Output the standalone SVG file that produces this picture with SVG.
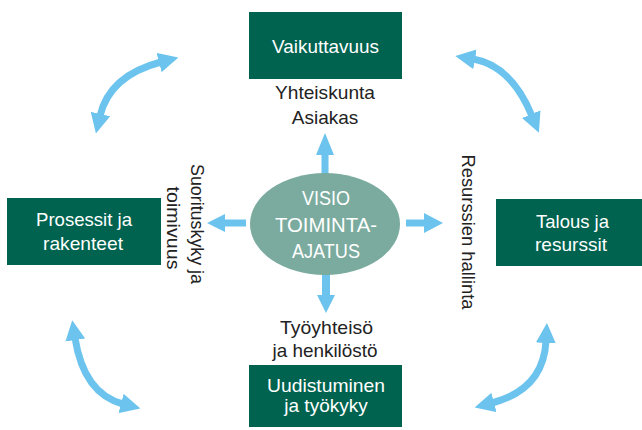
<svg xmlns="http://www.w3.org/2000/svg" width="642" height="430" viewBox="0 0 642 430">
<style>
.box{fill:#00634f}
.bt{font-family:"Liberation Sans",Arial,sans-serif;font-size:19px;fill:#ffffff;text-anchor:middle}
.lt{font-family:"Liberation Sans",Arial,sans-serif;font-size:19px;fill:#222222;text-anchor:middle}
.et{font-family:"Liberation Sans",Arial,sans-serif;font-size:20px;fill:#ffffff;text-anchor:middle}
.curve{fill:none;stroke:#6cc4ee;stroke-width:7}
.arr{fill:#6cc4ee}
</style>
<defs>
<marker id="ah" viewBox="0 0 20 20" refX="2" refY="10" markerWidth="20" markerHeight="20" markerUnits="userSpaceOnUse" orient="auto-start-reverse">
<path d="M0,0 L20,10 L0,20 z" fill="#6cc4ee"/>
</marker>
</defs>
<rect width="642" height="430" fill="#ffffff"/>
<g id="connectors">
<path class="curve" d="M100,116 Q109.5,75.5 161,62" marker-start="url(#ah)" marker-end="url(#ah)"/>
<path class="curve" d="M473,59 Q511,65.4 532,116" marker-start="url(#ah)" marker-end="url(#ah)"/>
<path class="curve" d="M75,338 Q83.8,393.7 123,404" marker-start="url(#ah)" marker-end="url(#ah)"/>
<path class="curve" d="M546,341 Q543.5,389.4 492,403" marker-start="url(#ah)" marker-end="url(#ah)"/>
<polygon class="arr" points="321.5,176 321.5,155 316,155 325,133 334,155 328.5,155 328.5,176"/>
<polygon class="arr" points="246,219.5 225,219.5 225,214 207,223 225,232 225,226.5 246,226.5"/>
<polygon class="arr" points="406,219.5 424,219.5 424,213 443,223 424,233 424,226.5 406,226.5"/>
<polygon class="arr" points="322,272 322,295 317,295 326,313 335,295 330,295 330,272"/>
</g>
<g id="center">
<ellipse cx="325" cy="224" rx="75" ry="51" fill="#7aab9e"/>
<text class="et" x="326" y="205" textLength="48" lengthAdjust="spacingAndGlyphs">VISIO</text>
<text class="et" x="326" y="232" textLength="102" lengthAdjust="spacingAndGlyphs">TOIMINTA-</text>
<text class="et" x="326" y="258" textLength="68" lengthAdjust="spacingAndGlyphs">AJATUS</text>
</g>
<g id="vaikuttavuus">
<rect class="box" x="249" y="12" width="153" height="67"/>
<text class="bt" x="325.5" y="53" textLength="107" lengthAdjust="spacingAndGlyphs">Vaikuttavuus</text>
</g>
<g id="label-top">
<text class="lt" x="325" y="99" textLength="100" lengthAdjust="spacingAndGlyphs">Yhteiskunta</text>
<text class="lt" x="325" y="124">Asiakas</text>
</g>
<g id="prosessit">
<rect class="box" x="7" y="198" width="154" height="67"/>
<text class="bt" x="84" y="226" textLength="96" lengthAdjust="spacingAndGlyphs">Prosessit ja</text>
<text class="bt" x="83" y="250" textLength="80" lengthAdjust="spacingAndGlyphs">rakenteet</text>
</g>
<g id="label-left">
<text class="lt" transform="translate(191,224) rotate(90)" x="0" y="0" textLength="120" lengthAdjust="spacingAndGlyphs">Suorituskyky ja</text>
<text class="lt" transform="translate(167,228) rotate(90)" x="0" y="0" textLength="83" lengthAdjust="spacingAndGlyphs">toimivuus</text>
</g>
<g id="talous">
<rect class="box" x="496" y="199" width="146" height="67"/>
<text class="bt" x="572.5" y="228" textLength="73" lengthAdjust="spacingAndGlyphs">Talous ja</text>
<text class="bt" x="571" y="251" textLength="72" lengthAdjust="spacingAndGlyphs">resurssit</text>
</g>
<g id="label-right">
<text class="lt" transform="translate(462,232) rotate(90)" x="0" y="0" textLength="155" lengthAdjust="spacingAndGlyphs">Resurssien hallinta</text>
</g>
<g id="uudistuminen">
<rect class="box" x="249" y="365" width="153" height="62"/>
<text class="bt" x="326" y="392" textLength="118" lengthAdjust="spacingAndGlyphs">Uudistuminen</text>
<text class="bt" x="326" y="412">ja työkyky</text>
</g>
<g id="label-bottom">
<text class="lt" x="326.5" y="334" textLength="93" lengthAdjust="spacingAndGlyphs">Työyhteisö</text>
<text class="lt" x="325" y="357" textLength="105" lengthAdjust="spacingAndGlyphs">ja henkilöstö</text>
</g>
</svg>
